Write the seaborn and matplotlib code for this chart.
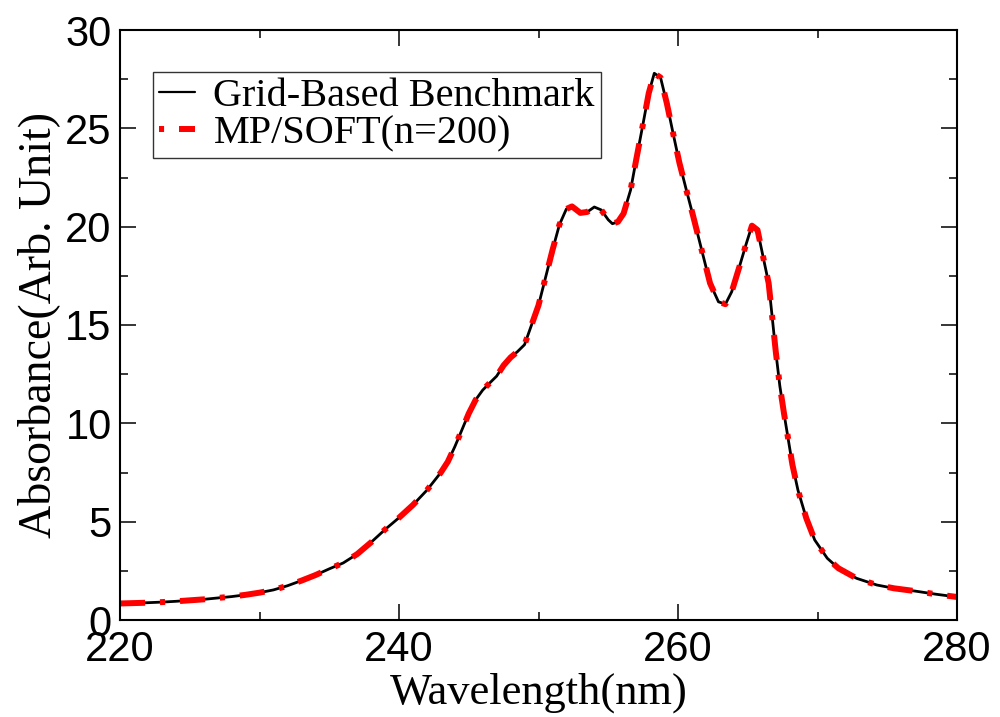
import matplotlib
matplotlib.use("Agg")
import matplotlib.pyplot as plt
from matplotlib.ticker import MultipleLocator
import seaborn as sns
import pandas as pd

# --- data ---
wavelength = [220.0, 221.0, 222.0, 223.0, 224.0, 225.0, 226.0, 227.0, 228.0, 229.0,
              230.0, 231.0, 232.0, 233.0, 234.0, 235.0, 236.0, 237.0, 238.0, 239.0,
              240.0, 241.0, 242.0, 243.0, 243.5, 244.0, 244.5, 245.0, 245.5, 246.0,
              246.5, 247.0, 247.5, 248.0, 248.5, 249.0, 249.5, 250.0, 250.5, 251.0,
              251.5, 252.0, 252.4, 253.0, 253.5, 254.0, 254.5, 255.0, 255.3, 255.7,
              256.1, 256.6, 257.0, 257.5, 257.9, 258.3, 258.75, 259.2, 259.65, 260.1,
              260.6, 261.1, 261.7, 262.3, 262.9, 263.4, 263.85, 264.4, 264.9, 265.3,
              265.7, 266.1, 266.5, 266.75, 267.0, 267.3, 267.6, 267.9, 268.2, 268.6,
              269.2, 269.8, 270.7, 271.5, 272.8, 274.25, 275.5, 277.0, 278.5, 280.0]
absorbance = [0.84, 0.86, 0.88, 0.91, 0.95, 1.00, 1.05, 1.12, 1.19, 1.28,
              1.39, 1.53, 1.74, 2.00, 2.28, 2.60, 2.90, 3.35, 3.95, 4.60,
              5.20, 5.85, 6.60, 7.50, 8.05, 8.81, 9.65, 10.50, 11.20, 11.69,
              12.05, 12.40, 12.95, 13.35, 13.65, 14.00, 15.00, 16.00, 17.40, 18.80,
              20.10, 20.90, 21.03, 20.70, 20.75, 21.00, 20.85, 20.35, 20.15, 20.25,
              20.67, 21.86, 23.39, 25.25, 26.78, 27.80, 27.58, 26.27, 24.74, 23.25,
              21.86, 20.50, 18.81, 17.12, 16.18, 16.06, 16.69, 17.96, 19.15, 20.05,
              19.83, 18.47, 17.12, 15.42, 13.70, 11.90, 10.50, 9.20, 7.90, 6.60,
              5.17, 4.07, 3.14, 2.63, 2.12, 1.78, 1.61, 1.47, 1.31, 1.17]
# MP/SOFT(n=200) overlays the benchmark curve
absorbance_mpsoft = list(absorbance)

series_labels = ["Grid-Based Benchmark", "MP/SOFT(n=200)"]
x_ticks = [220, 240, 260, 280]
y_ticks = [0, 5, 10, 15, 20, 25, 30]

df_bench = pd.DataFrame({"x": wavelength, "y": absorbance})
df_mp = pd.DataFrame({"x": wavelength, "y": absorbance_mpsoft})

sns.set_style("ticks")
plt.rcParams["font.family"] = ["Liberation Serif", "DejaVu Serif"]
plt.rcParams["text.color"] = "black"
plt.rcParams["axes.labelcolor"] = "black"
plt.rcParams["xtick.color"] = "black"
plt.rcParams["ytick.color"] = "black"
plt.rcParams["axes.edgecolor"] = "black"

fig = plt.figure(figsize=(10, 7.17), dpi=100)
ax = fig.add_axes([0.120, 1 - 620 / 717, 0.837, 590 / 717])

sns.lineplot(data=df_bench, x="x", y="y", ax=ax, color="black", lw=2.0,
             estimator=None, sort=False, label=series_labels[0])
dash_pat = (4.2, 2.5, 0.85, 2.5)
sns.lineplot(data=df_mp, x="x", y="y", ax=ax, color="red", lw=4.3,
             estimator=None, sort=False, label=series_labels[1],
             linestyle=(0, dash_pat))

ax.set_xlim(220, 280)
ax.set_ylim(0, 30)
ax.set_xticks(x_ticks)
ax.set_yticks(y_ticks)
ax.xaxis.set_minor_locator(MultipleLocator(10))
ax.yaxis.set_minor_locator(MultipleLocator(2.5))
ax.tick_params(which="both", direction="in", top=True, right=True, width=1.1,
               colors="black")
ax.tick_params(which="major", length=11.5)
ax.tick_params(which="minor", length=5.8)
ax.tick_params(axis="x", which="major", pad=7)
ax.tick_params(axis="y", which="major", pad=6)
for lab in ax.get_xticklabels() + ax.get_yticklabels():
    lab.set_fontfamily(["Liberation Sans", "DejaVu Sans"])
    lab.set_fontsize(30)
    lab.set_color("black")
for sp in ax.spines.values():
    sp.set_linewidth(1.5)
    sp.set_color("black")
    sp.set_visible(True)

ax.set_xlabel("Wavelength(nm)", fontsize=32, labelpad=2, color="black")
ax.set_ylabel("Absorbance(Arb. Unit)", fontsize=33, labelpad=4, color="black")

leg = ax.legend(loc="upper left", bbox_to_anchor=(33 / 837, (620 - 72) / 590),
                borderaxespad=0, fontsize=29, frameon=True, fancybox=False,
                handlelength=0.9, handletextpad=0.45, borderpad=0.15,
                labelspacing=0.0, edgecolor="black")
leg.get_frame().set_linewidth(1.0)
for t in leg.get_texts():
    t.set_color("black")
handles = leg.legend_handles
handles[0].set_linewidth(1.6)
handles[1].set_linestyle((dash_pat[0] + dash_pat[1], dash_pat))

fig.savefig("out.png", dpi=100, facecolor="white")
